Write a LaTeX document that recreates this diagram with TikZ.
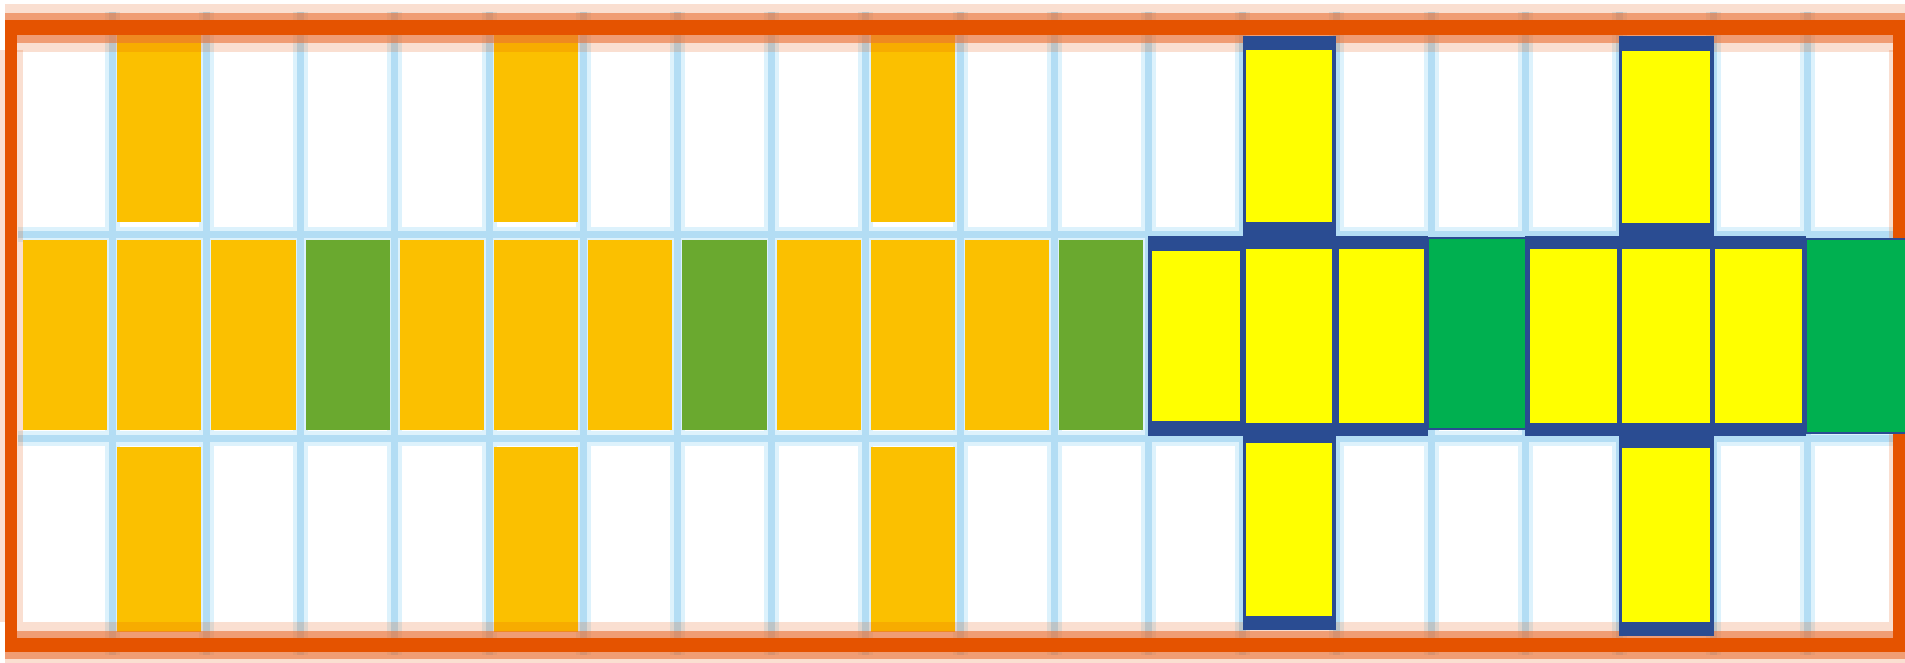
\documentclass[tikz,border=0pt]{standalone}
\definecolor{amber}{HTML}{FBC000}
\definecolor{leaf}{HTML}{6AA92F}
\definecolor{lemon}{HTML}{FFFF00}
\definecolor{emer}{HTML}{00B050}
\definecolor{navy}{HTML}{2A4C92}
\definecolor{gridc}{HTML}{B3DDF4}
\definecolor{gridhalo}{HTML}{DDF2FC}
\definecolor{rim}{HTML}{E55300}
\definecolor{rimmid}{HTML}{EA7236}
\tikzset{
 ambercell/.style={fill=amber},
 leafcell/.style={fill=leaf},
 navyblock/.style={fill=navy},
 lemoncell/.style={fill=lemon},
 emercell/.style={fill=emer, draw=navy, line width=1.5pt},
 gridline/.style={draw=gridc, line width=7pt},
 gridglow/.style={draw=gridhalo, line width=15pt},
 rimglow/.style={draw=rim, opacity=0.18},
 rimhalf/.style={draw=rimmid, opacity=0.6},
 rimcore/.style={draw=rim},
}
\begin{document}
\begin{tikzpicture}[x=1pt,y=-1pt]
\useasboundingbox (0,0) rectangle (1905,663);
\fill[white] (0,0) rectangle (1905,663);
% light blue grid
\foreach \k in {1,...,19}{
  \pgfmathsetmacro\xx{18+94.2*\k}
  \draw[gridglow] (\xx,12) -- (\xx,655);
}
\draw[gridglow] (18,234) -- (1900,234);
\draw[gridglow] (18,438) -- (1900,438);
\foreach \k in {1,...,19}{
  \pgfmathsetmacro\xx{18+94.2*\k}
  \draw[gridline] (\xx,12) -- (\xx,655);
}
\draw[gridline] (18,234) -- (1900,234);
\draw[gridline] (18,438) -- (1900,438);
% left section cells
\foreach \c in {0,...,11}{
  \pgfmathsetmacro\xa{18+94.2*\c+5}
  \pgfmathsetmacro\xb{18+94.2*(\c+1)-5}
  \pgfmathtruncatemacro\m{mod(\c,4)}
  \ifnum\m=3 \fill[leafcell] (\xa,240) rectangle (\xb,430);
  \else \fill[ambercell] (\xa,240) rectangle (\xb,430); \fi
  \ifnum\m=1
    \fill[ambercell] (\xa,34) rectangle (\xb,222);
    \fill[ambercell] (\xa,447) rectangle (\xb,632);
  \fi
}
% orange rim
\draw[rimglow, line width=48pt] (5,28) -- (1905,28);
\draw[rimglow, line width=46pt] (5,645) -- (1905,645);
\draw[rimhalf, line width=30pt] (5,28) -- (1905,28);
\draw[rimhalf, line width=28pt] (5,645) -- (1905,645);
\draw[rimglow, line width=24pt] (11,50) -- (11,622);
\draw[rimglow, line width=20pt] (1899,50) -- (1899,622);
\draw[rimcore, line width=12pt] (11,28) rectangle (1899,645);
\draw[rimcore, line width=15pt] (5,28) -- (1905,28);
\draw[rimcore, line width=14pt] (5,645) -- (1905,645);
% right section: blue blocks
\fill[navyblock] (1148.4,236) rectangle (1428,436);
\fill[navyblock] (1242.6,36) rectangle (1336,630);
\fill[navyblock] (1525,236) rectangle (1806,436);
\fill[navyblock] (1619.4,36) rectangle (1713.6,636);
% yellow cells
\fill[lemoncell] (1152,251) rectangle (1240,421);
\fill[lemoncell] (1246,50) rectangle (1332,222);
\fill[lemoncell] (1246,249) rectangle (1332,423);
\fill[lemoncell] (1246,443) rectangle (1332,616);
\fill[lemoncell] (1339,249) rectangle (1424,423);
\fill[lemoncell] (1530,249) rectangle (1617,423);
\fill[lemoncell] (1622,249) rectangle (1710,423);
\fill[lemoncell] (1715,249) rectangle (1802,423);
\fill[lemoncell] (1622,51) rectangle (1710,223);
\fill[lemoncell] (1622,448) rectangle (1710,622);
% green cells
\filldraw[emercell] (1428,238) rectangle (1526,429);
\filldraw[emercell] (1806,239) rectangle (1906,433);
\end{tikzpicture}
\end{document}
